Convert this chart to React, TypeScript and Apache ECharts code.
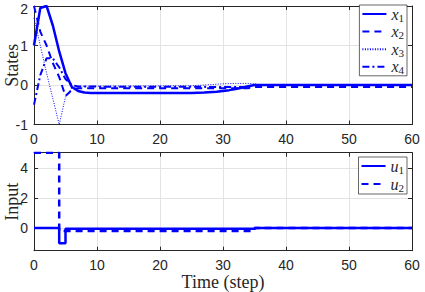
import React, { useEffect, useRef } from "react";
import * as echarts from "echarts";

// ---- data ----
const T_X1 = [0, 1, 2, 3, 4, 5, 6, 7, 8, 9, 25, 27, 29, 30, 31, 32, 33, 34, 35, 60];
const X1 = [1, 1.95, 2, 1.5, 0.85, 0.3, -0.05, -0.15, -0.19, -0.2, -0.2, -0.19, -0.17, -0.15, -0.13, -0.1, -0.07, -0.03, 0, 0];
const T_X2 = [0, 1, 2, 3, 4, 5, 6, 7, 34, 35, 60];
const X2 = [2, 1.35, 1.0, 0.55, 0.2, -0.28, -0.13, -0.08, -0.08, -0.05, -0.05];
const T_X3 = [0, 1, 2, 3, 4, 5, 6, 7, 25, 28, 30, 32, 34, 35, 36, 60];
const X3 = [1.7, 1.0, 0.3, -0.35, -1.0, -0.3, -0.08, -0.03, -0.02, 0.01, 0.03, 0.04, 0.04, 0.03, 0, 0];
const T_X4 = [0, 1, 2, 3, 4, 5, 6, 7, 34, 35, 60];
const X4 = [-0.5, 0.25, 0.68, 0.67, 0.45, 0.15, 0.0, -0.04, -0.05, 0, 0];
const T_U1 = [0, 4, 5, 35, 60];
const U1 = [0, -1, -0.05, 0, 0];
const T_U2 = [0, 4, 35, 60];
const U2 = [5, -0.2, 0, 0];
const STATE_NAMES = ["x1", "x2", "x3", "x4"];
const INPUT_NAMES = ["u1", "u2"];
const Y_TICKS_TOP = [-1, 0, 1, 2];
const Y_TICKS_BOTTOM = [0, 2, 4];

const zip = (t: number[], v: number[]) => t.map((x, i) => [x, v[i]]);

const BLUE = "#0000ff";
const AX = "#262626";
const GRID = "#e3e3e3";
const SANS = "Liberation Sans";
const SERIF = "Liberation Serif";

export default function App() {
  const ref = useRef<HTMLDivElement>(null);
  useEffect(() => {
    if (!ref.current) return;
    const chart = echarts.init(ref.current, null, { renderer: "svg" });
    const grids = [
      { left: 34, top: 6, width: 378, height: 118.5, containLabel: false, outerBoundsMode: "none" },
      { left: 34, top: 152.7, width: 378, height: 98, containLabel: false, outerBoundsMode: "none" },
    ];
    const mainX = (gi: number, showName: boolean) => ({
      type: "value",
      gridIndex: gi,
      min: 0,
      max: 60,
      interval: 10,
      position: "bottom",
      axisLine: { show: true, onZero: false, lineStyle: { color: AX, width: 1 } },
      axisTick: { show: true, inside: true, length: 4, lineStyle: { color: AX } },
      axisLabel: { show: true, color: AX, fontFamily: SANS, fontSize: 14, margin: 7 },
      splitLine: { show: true, lineStyle: { color: GRID, width: 1 } },
      name: showName ? "Time (step)" : "",
      nameLocation: "middle",
      nameGap: 22,
      nameMoveOverlap: false,
      nameTextStyle: { fontFamily: SERIF, fontSize: 18, color: AX, verticalAlign: "top" },
    });
    const topX = (gi: number) => ({
      type: "value",
      gridIndex: gi,
      min: 0,
      max: 60,
      interval: 10,
      position: "top",
      axisLine: { show: true, onZero: false, lineStyle: { color: AX, width: 1 } },
      axisTick: { show: true, inside: true, length: 4, lineStyle: { color: AX } },
      axisLabel: { show: false },
      splitLine: { show: false },
    });
    const mainY = (gi: number, min: number, max: number, ticks: number[], name: string) => ({
      type: "value",
      gridIndex: gi,
      min,
      max,
      position: "left",
      axisLine: { show: true, onZero: false, lineStyle: { color: AX, width: 1 } },
      axisTick: { show: true, inside: true, length: 4, lineStyle: { color: AX }, customValues: ticks },
      axisLabel: {
        show: true,
        color: AX,
        fontFamily: SANS,
        fontSize: 14,
        margin: 6,
        customValues: ticks,
        formatter: (v: number) => (v === max ? `{t|${v}}` : `${v}`),
        rich: { t: { color: AX, fontFamily: SANS, fontSize: 14, padding: [6, 0, 0, 0] } },
      },
      splitLine: { show: true, lineStyle: { color: GRID, width: 1 } },
      name,
      nameLocation: "middle",
      nameGap: 13,
      nameMoveOverlap: false,
      nameTextStyle: { fontFamily: SERIF, fontSize: 18, color: AX },
    });
    const rightY = (gi: number, min: number, max: number, ticks: number[]) => ({
      type: "value",
      gridIndex: gi,
      min,
      max,
      position: "right",
      axisLine: { show: true, onZero: false, lineStyle: { color: AX, width: 1 } },
      axisTick: { show: true, inside: true, length: 4, lineStyle: { color: AX }, customValues: ticks },
      axisLabel: { show: false, customValues: ticks },
      splitLine: { show: false },
    });
    const legendText = {
      rich: {
        v: { fontFamily: SERIF, fontStyle: "italic", fontSize: 16, color: AX },
        s: { fontFamily: SERIF, fontSize: 11, color: AX, padding: [7, 0, 0, 0] },
      },
    };
    const fmt = (n: string) => `{v|${n[0]}}{s|${n[1]}}`;
    const line = (name: string, data: number[][], xi: number, yi: number, width: number, type: any, step?: any) => ({
      type: "line",
      name,
      data,
      xAxisIndex: xi,
      yAxisIndex: yi,
      symbol: "none",
      step: step || false,
      lineStyle: { color: BLUE, width, type },
      itemStyle: { color: BLUE },
      z: 5,
    });
    const legendBase = {
      orient: "vertical",
      right: 18,
      itemWidth: 24,
      itemHeight: 14,
      backgroundColor: "#fff",
      borderColor: AX,
      borderWidth: 0.7,
      formatter: fmt,
      textStyle: legendText,
      itemStyle: { opacity: 0 },
    };
    chart.setOption({
      animation: false,
      backgroundColor: "#ffffff",
      grid: grids,
      xAxis: [mainX(0, false), topX(0), mainX(1, true), topX(1)],
      yAxis: [
        { ...mainY(0, -1, 2, Y_TICKS_TOP, "States"), interval: 1 },
        rightY(0, -1, 2, Y_TICKS_TOP),
        mainY(1, -1.5, 5, Y_TICKS_BOTTOM, "Input"),
        rightY(1, -1.5, 5, Y_TICKS_BOTTOM),
      ],
      legend: [
        { ...legendBase, data: STATE_NAMES, top: 5, padding: [1, 3, 0, 2], itemGap: 0.6 },
        { ...legendBase, data: INPUT_NAMES, top: 157, padding: [1, 3, 1, 2], itemGap: 1 },
      ],
      series: [
        line("x1", zip(T_X1, X1), 0, 0, 2.5, "solid"),
        line("x2", zip(T_X2, X2), 0, 0, 2, [7, 5]),
        line("x3", zip(T_X3, X3), 0, 0, 1, [1, 1.5]),
        line("x4", zip(T_X4, X4), 0, 0, 2, [7, 3, 2, 3]),
        line("u1", zip(T_U1, U1), 2, 2, 2.5, "solid", "end"),
        line("u2", zip(T_U2, U2), 2, 2, 2.5, [7, 5], "end"),
      ],
    });
    return () => chart.dispose();
  }, []);
  return <div ref={ref} style={{ width: 425, height: 292, position: "absolute", left: 0, top: 0 }} />;
}
